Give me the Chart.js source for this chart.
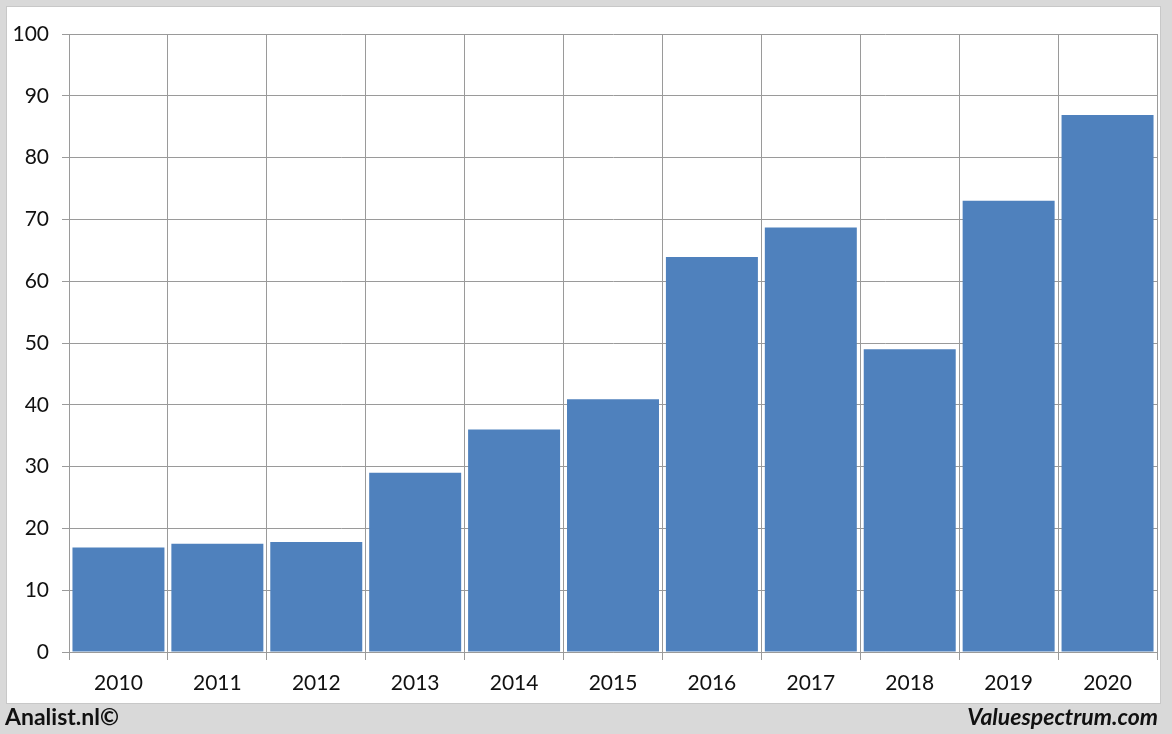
<!DOCTYPE html>
<html>
<head>
<meta charset="utf-8">
<script src="https://cdn.jsdelivr.net/npm/chart.js@4"></script>
<style>
  html, body { margin: 0; padding: 0; }
  body { width: 1172px; height: 734px; background: #d9d9d9; position: relative; overflow: hidden; font-family: Lato, sans-serif; }
  #panel { position: absolute; left: 7px; top: 7px; width: 1153px; height: 696px; background: #fff; box-shadow: 0 0 0 1px #c8c8c8; }
  #left { position: absolute; left: 5px; top: 702px; font-size: 23px; font-weight: bold; color: #111; }
  #right { position: absolute; right: 14px; top: 702px; font-size: 23px; font-weight: bold; font-style: italic; color: #111; }
</style>
</head>
<body>
<div id="panel"><canvas id="graph"></canvas></div>
<div id="left">Analist.nl©</div>
<div id="right">Valuespectrum.com</div>
<script>
const years = ['2010', '2011', '2012', '2013', '2014', '2015', '2016', '2017', '2018', '2019', '2020'];
const values = [16.9, 17.5, 17.8, 29, 36, 40.9, 63.9, 68.7, 49, 73, 86.9];
const yTicks = [0, 10, 20, 30, 40, 50, 60, 70, 80, 90, 100];

window.onload = () => {
  const canvas = document.getElementById('graph');
  canvas.width = 1153;
  canvas.height = 696;
  const ctx = canvas.getContext('2d');

  new Chart(ctx, {
    type: 'bar',
    data: {
      labels: years,
      datasets: [
        {
          data: values,
          backgroundColor: '#4f81bd',
          borderWidth: 0,
          barPercentage: 0.93,
          categoryPercentage: 1,
        },
      ],
    },
    options: {
      responsive: false,
      animation: false,
      layout: { padding: { top: 27, right: 3, left: 0, bottom: 0 } },
      plugins: { legend: { display: false }, tooltip: { enabled: false } },
      scales: {
        x: {
          grid: { color: '#9a9a9a', lineWidth: 1, tickLength: 8, offset: true },
          border: { color: '#9a9a9a' },
          ticks: { color: '#111', font: { family: 'Lato', size: 21 }, padding: 11 },
          afterFit: s => { s.height = 51; },
        },
        y: {
          min: 0,
          max: 100,
          afterBuildTicks: s => { s.ticks = yTicks.map(v => ({ value: v })); },
          grid: { color: '#9a9a9a', lineWidth: 1, tickLength: 7 },
          border: { color: '#9a9a9a' },
          ticks: { color: '#111', font: { family: 'Lato', size: 21 }, padding: 13 },
          afterFit: s => { s.width = 62; },
        },
      },
    },
  });
};
</script>
</body>
</html>
